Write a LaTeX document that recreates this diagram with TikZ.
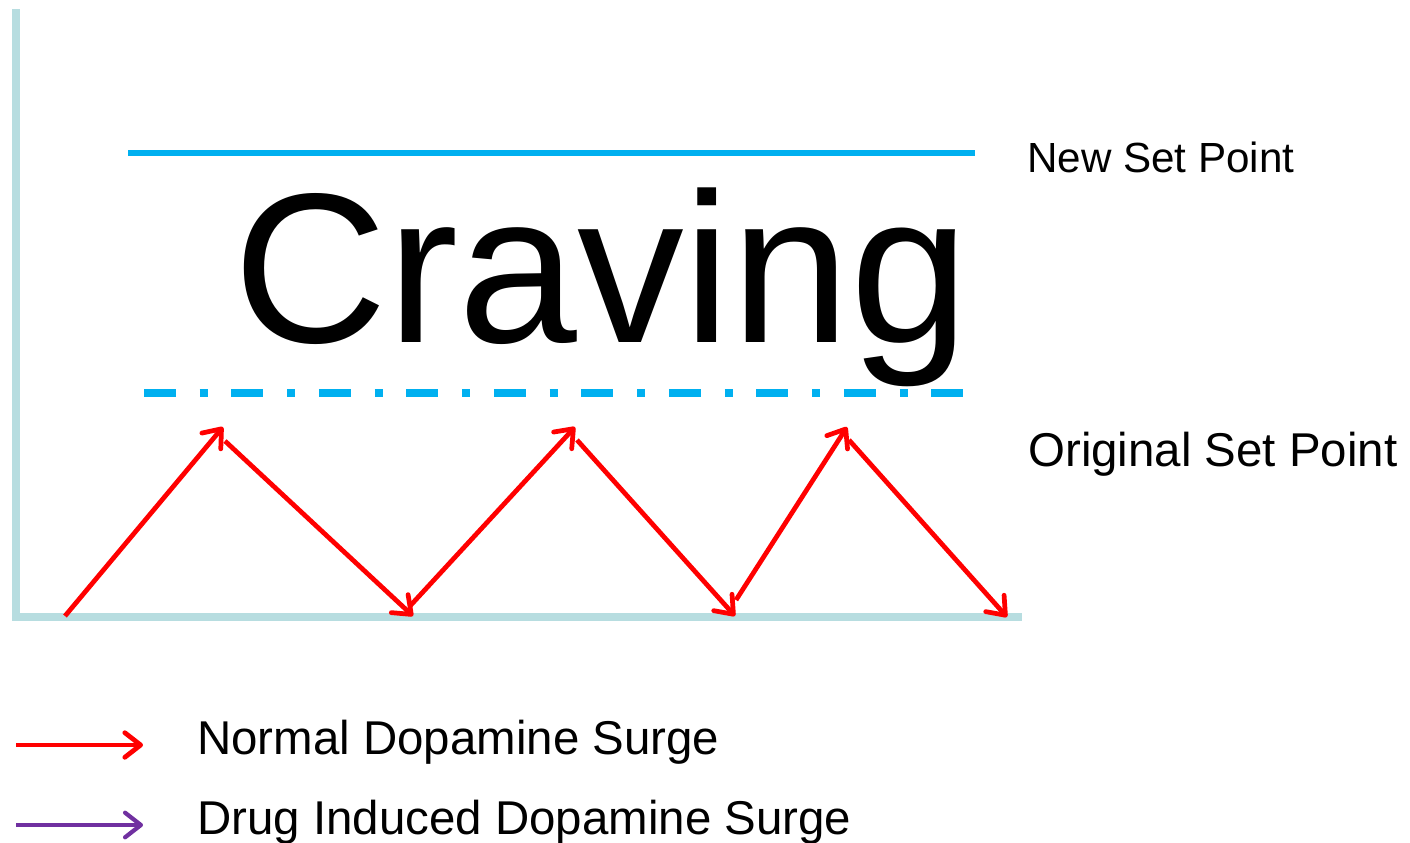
\documentclass[tikz,border=0pt]{standalone}
\usepackage{fontspec}
\setmainfont{Liberation Sans}
\usetikzlibrary{arrows.meta}
\definecolor{axiscol}{HTML}{B7DDE0}
\definecolor{setcol}{HTML}{00B0F0}
\definecolor{surgered}{HTML}{FF0000}
\definecolor{drugpurple}{HTML}{7030A0}
\tikzset{
  axisline/.style={draw=axiscol, line width=4pt},
  setline/.style={draw=setcol, line width=3.4pt},
  origline/.style={draw=setcol, line width=4pt, dash pattern=on 18.1pt off 13.6pt on 4.5pt off 13.6pt},
  surge/.style={draw=surgered, line width=2.7pt, -{Straight Barb[length=9pt,width=14pt,round]}},
  drug/.style={draw=drugpurple, line width=2.4pt, -{Straight Barb[length=9pt,width=14pt,round]}},
  lab/.style={anchor=base west, inner sep=0pt, font=\fontsize{27}{32}\selectfont},
  smalllab/.style={anchor=base west, inner sep=0pt, font=\fontsize{24}{29}\selectfont},
}
\begin{document}
\begin{tikzpicture}[x=0.02cm,y=-0.02cm]
\useasboundingbox (0,0) rectangle (1410,842);
% axes
\coordinate (ytop) at (16,9);
\coordinate (origin) at (16,617);
\coordinate (xend) at (1022,617);
\draw[axisline] (ytop) -- (16,620);
\draw[axisline] (12,617) -- (xend);
% set point lines
\coordinate (n1) at (128,153);
\coordinate (n2) at (975,153);
\draw[setline] (n1) -- (n2);
\coordinate (o1) at (144,393);
\coordinate (o2) at (968,393);
\draw[origline] (o1) -- (o2);
% labels
\node[smalllab] (newsp) at (1027,172) {New Set Point};
\node[lab] (origsp) at (1028,466) {Original Set Point};
\node[anchor=base west, inner sep=0pt, font=\fontsize{121.5}{130}\selectfont] (craving) at (233,342) {Craving};
% zigzag
\coordinate (a0) at (65,616);
\coordinate (a1) at (223,427);
\coordinate (b0) at (225,441);
\coordinate (b1) at (413,616);
\coordinate (c0) at (410,606);
\coordinate (c1) at (575,427);
\coordinate (d0) at (577,440);
\coordinate (d1) at (735,616);
\coordinate (e0) at (736,600);
\coordinate (e1) at (847,427);
\coordinate (f0) at (849,440);
\coordinate (f1) at (1007,617);
\draw[surge] (a0) -- (a1);
\draw[surge] (b0) -- (b1);
\draw[surge] (c0) -- (c1);
\draw[surge] (d0) -- (d1);
\draw[surge] (e0) -- (e1);
\draw[surge] (f0) -- (f1);
% legend
\coordinate (l1s) at (16,745);
\coordinate (l1e) at (143,745);
\coordinate (l2s) at (16,825);
\coordinate (l2e) at (143,825);
\draw[surge] (l1s) -- (l1e);
\draw[drug] (l2s) -- (l2e);
\node[lab] (leg1) at (197,754) {Normal Dopamine Surge};
\node[lab] (leg2) at (197,834) {Drug Induced Dopamine Surge};
\end{tikzpicture}
\end{document}
